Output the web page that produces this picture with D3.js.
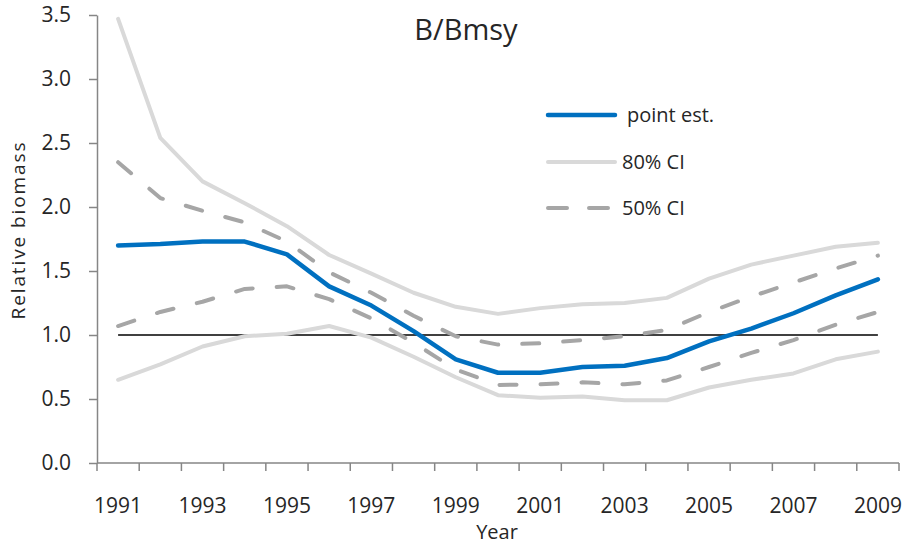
<!DOCTYPE html>
<html>
<head>
<meta charset="utf-8">
<script src="https://cdn.jsdelivr.net/npm/d3@7"></script>
<style>
  body { margin: 0; background: #fff; }
  svg { display: block; font-family: "Open Sans", "Liberation Sans", sans-serif; }
</style>
</head>
<body>
<svg id="chart" width="907" height="545"></svg>
<script>
const years = [1991,1992,1993,1994,1995,1996,1997,1998,1999,2000,2001,2002,2003,2004,2005,2006,2007,2008,2009];
const pointEst = [1.70,1.71,1.73,1.73,1.63,1.38,1.23,1.03,0.81,0.705,0.705,0.75,0.76,0.82,0.95,1.05,1.17,1.31,1.435];
const ci80Upper = [3.47,2.54,2.20,2.03,1.85,1.625,1.48,1.33,1.22,1.165,1.21,1.24,1.25,1.29,1.44,1.55,1.62,1.69,1.72];
const ci80Lower = [0.65,0.77,0.91,0.99,1.01,1.07,0.98,0.83,0.67,0.53,0.51,0.52,0.49,0.49,0.59,0.65,0.70,0.81,0.87];
const ci50Upper = [2.35,2.07,1.97,1.88,1.73,1.49,1.33,1.15,0.99,0.925,0.935,0.96,0.99,1.04,1.18,1.30,1.41,1.52,1.62];
const ci50Lower = [1.07,1.18,1.26,1.36,1.38,1.28,1.13,0.94,0.73,0.61,0.615,0.63,0.615,0.645,0.75,0.86,0.96,1.08,1.18];
const refValue = 1.0;
const yTicks = [0,0.5,1.0,1.5,2.0,2.5,3.0,3.5];
const xLabelYears = [1991,1993,1995,1997,1999,2001,2003,2005,2007,2009];

const svg = d3.select("#chart");
const mLeft = 97, mRight = 899, mTop = 15, mBottom = 463;
const x = d3.scaleBand().domain(years).range([mLeft, mRight]);
const y = d3.scaleLinear().domain([0, 3.5]).range([mBottom, mTop]);
const cx = d => x(d) + x.bandwidth() / 2;
const axisColor = "#868686";
const textColor = "#262626";

// Y axis
const yAxis = svg.append("g").attr("transform", `translate(${mLeft},0)`)
  .call(d3.axisLeft(y).tickValues(yTicks).tickFormat(d3.format(".1f")).tickSizeInner(8).tickSizeOuter(0).tickPadding(18));
yAxis.select(".domain").attr("stroke", axisColor).attr("stroke-width", 1.5);
yAxis.selectAll(".tick line").attr("stroke", axisColor).attr("stroke-width", 1.5);
yAxis.selectAll(".tick text").attr("fill", textColor).style("font-size", "21px").style("font-family", "Open Sans");

// X axis: ticks at category boundaries
const xAxisG = svg.append("g");
xAxisG.append("line").attr("x1", mLeft).attr("x2", mRight).attr("y1", mBottom).attr("y2", mBottom)
  .attr("stroke", axisColor).attr("stroke-width", 1.5);
const boundaries = years.map(d => x(d)).concat([mRight]);
xAxisG.selectAll("line.tk").data(boundaries).enter().append("line").attr("class", "tk")
  .attr("x1", d => d).attr("x2", d => d).attr("y1", mBottom).attr("y2", mBottom + 8)
  .attr("stroke", axisColor).attr("stroke-width", 1.5);
xAxisG.selectAll("text").data(xLabelYears).enter().append("text")
  .attr("x", d => cx(d)).attr("y", 513).attr("text-anchor", "middle")
  .attr("fill", textColor).style("font-size", "21px").text(d => d);

// Axis titles
svg.append("text").attr("x", 497).attr("y", 539).attr("text-anchor", "middle")
  .attr("fill", textColor).style("font-size", "20px").text("Year");
svg.append("text").attr("transform", "translate(25,231) rotate(-90)").attr("text-anchor", "middle")
  .attr("fill", textColor).style("font-size", "19px")
  .attr("textLength", 177).attr("lengthAdjust", "spacing").text("Relative biomass");

// Title
svg.append("text").attr("x", 466).attr("y", 40).attr("text-anchor", "middle")
  .attr("fill", textColor).style("font-size", "29px").text("B/Bmsy");

// Reference line
svg.append("line").attr("x1", cx(years[0])).attr("x2", cx(years[years.length - 1]))
  .attr("y1", y(refValue)).attr("y2", y(refValue)).attr("stroke", "#000").attr("stroke-width", 1.5);

const line = d3.line().x((d, i) => cx(years[i])).y(d => y(d));
const seriesStyles = [
  { data: ci80Upper, color: "#D9D9D9", width: 4, dash: null },
  { data: ci80Lower, color: "#D9D9D9", width: 4, dash: null },
  { data: ci50Upper, color: "#A6A6A6", width: 4, dash: "17,24" },
  { data: ci50Lower, color: "#A6A6A6", width: 4, dash: "17,24" },
  { data: pointEst, color: "#0070C0", width: 4.5, dash: null }
];
seriesStyles.forEach(s => {
  svg.append("path").datum(s.data).attr("d", line).attr("fill", "none")
    .attr("stroke", s.color).attr("stroke-width", s.width)
    .attr("stroke-linecap", "round").attr("stroke-linejoin", "round")
    .attr("stroke-dasharray", s.dash);
});

// Legend
const legend = [
  { label: "point est.", color: "#0070C0", width: 4.5, dash: null, y: 115, tx: 627 },
  { label: "80% CI", color: "#D9D9D9", width: 4, dash: null, y: 162, tx: 622 },
  { label: "50% CI", color: "#A6A6A6", width: 4, dash: "19,22", y: 208, tx: 622 }
];
legend.forEach(l => {
  svg.append("line").attr("x1", 548).attr("x2", 615).attr("y1", l.y).attr("y2", l.y)
    .attr("stroke", l.color).attr("stroke-width", l.width).attr("stroke-linecap", "round")
    .attr("stroke-dasharray", l.dash);
  svg.append("text").attr("x", l.tx).attr("y", l.y).attr("dy", "0.35em")
    .attr("fill", textColor).style("font-size", "20px").text(l.label);
});
</script>
</body>
</html>
